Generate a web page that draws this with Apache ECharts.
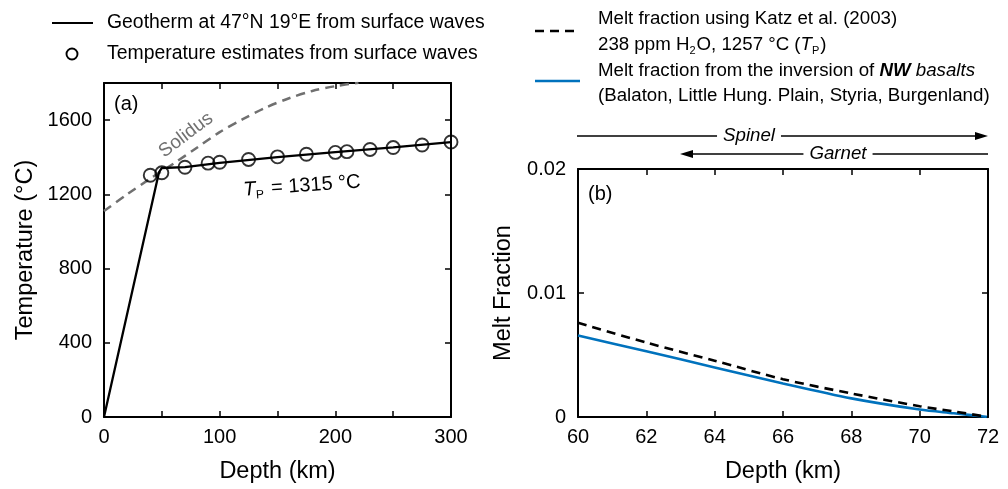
<!DOCTYPE html>
<html>
<head>
<meta charset="utf-8">
<script src="https://cdn.jsdelivr.net/npm/echarts@6/dist/echarts.min.js"></script>
<style>
  html, body { margin: 0; padding: 0; background: #fff; }
  #main { width: 1008px; height: 489px; }
</style>
</head>
<body>
<div id="main"></div>
<script>
var FONT = '"Liberation Sans", Arial, Helvetica, sans-serif';

// (a) geotherm and temperature estimates
var geothermDepth = [0, 47.5, 50, 70, 100, 150, 200, 250, 300];
var geothermTemp = [0, 1318, 1342, 1347, 1370, 1401, 1427, 1453, 1481];
var estDepth = [40, 50, 70, 90, 100, 125, 150, 175, 200, 210, 230, 250, 275, 300];
var estTemp = [1303, 1316, 1346, 1368, 1373, 1388, 1402, 1416, 1426, 1430, 1442, 1452, 1466, 1482];
var solidusDepth = [0, 20, 40, 60, 80, 100, 120, 140, 160, 180, 200, 220];
var solidusTemp = [1110, 1200, 1285, 1365, 1450, 1535, 1605, 1668, 1718, 1757, 1783, 1801];

// (b) melt fraction
var meltDepth = [60, 62, 64, 66, 68, 70, 71, 72];
var katzMelt = [0.0076, 0.0060, 0.00454, 0.00305, 0.0019, 0.00087, 0.00045, 0];
var nwMelt = [0.00657, 0.0053, 0.0040, 0.0027, 0.0015, 0.0006, 0.0003, 0];

var tempTicks = [0, 400, 800, 1200, 1600];
var meltTicks = [0, 0.01, 0.02];

function pairs(xs, ys) {
    return xs.map(function (x, i) { return [x, ys[i]]; });
}

var chart = echarts.init(document.getElementById('main'), null, {renderer: 'canvas'});

var tickStyle = {show: true, inside: true, length: 6, lineStyle: {color: '#000', width: 1.5}};
var lineStyle = {show: true, onZero: false, lineStyle: {color: '#000', width: 2}};
var labelStyle = {color: '#000', fontSize: 20, fontFamily: FONT};
var nameStyle = {color: '#000', fontSize: 23.5, fontFamily: FONT};

function xAx(grid, min, max, step, pos, showLabels, name, fmt) {
    return {
        type: 'value', gridIndex: grid, min: min, max: max, interval: step, position: pos,
        axisLine: lineStyle, axisTick: tickStyle, splitLine: {show: false},
        axisLabel: showLabels ? Object.assign({margin: 10, formatter: fmt}, labelStyle) : {show: false},
        name: name, nameLocation: 'middle', nameGap: 43, nameTextStyle: nameStyle
    };
}
function yAx(grid, min, max, step, pos, showLabels, name, fmt, gap) {
    return {
        type: 'value', gridIndex: grid, min: min, max: max, interval: step, position: pos,
        axisLine: lineStyle, axisTick: tickStyle, splitLine: {show: false},
        axisLabel: showLabels ? Object.assign({margin: 12, formatter: fmt}, labelStyle) : {show: false},
        name: name, nameLocation: 'middle', nameGap: gap, nameTextStyle: nameStyle
    };
}

var depthFmt = function (v) { return v % 100 === 0 ? String(v) : ''; };
var tempFmt = function (v) { return tempTicks.indexOf(v) >= 0 ? String(v) : ''; };
var meltFmt = function (v) { return v === 0 ? '0' : String(+v.toFixed(2)); };
var meltDepthFmt = function (v) { return String(v); };

var LEG = 18.7;  // right legend font size

var option = {
    animation: false,
    backgroundColor: '#fff',
    grid: [
        {left: 104, top: 83, width: 347, height: 345},
        {left: 578, top: 169, width: 410, height: 259}
    ],
    xAxis: [
        xAx(0, 0, 300, 50, 'bottom', true, 'Depth (km)', depthFmt),
        xAx(0, 0, 300, 50, 'top', false, '', null),
        xAx(1, 60, 72, 2, 'bottom', true, 'Depth (km)', meltDepthFmt),
        xAx(1, 60, 72, 2, 'top', false, '', null)
    ],
    yAxis: [
        yAx(0, 0, 1800, 400, 'left', true, 'Temperature (°C)', tempFmt, 66),
        yAx(0, 0, 1800, 400, 'right', false, '', null, 0),
        yAx(1, 0, 0.02, 0.01, 'left', true, 'Melt Fraction', meltFmt, 62),
        yAx(1, 0, 0.02, 0.01, 'right', false, '', null, 0)
    ],
    series: [
        {
            type: 'line', xAxisIndex: 0, yAxisIndex: 0, name: 'Solidus',
            data: pairs(solidusDepth, solidusTemp), smooth: 0.3, showSymbol: false,
            lineStyle: {color: '#707070', width: 2.5, type: [9, 6]}, clip: true, z: 2
        },
        {
            type: 'line', xAxisIndex: 0, yAxisIndex: 0, name: 'Geotherm',
            data: pairs(geothermDepth, geothermTemp), showSymbol: false,
            lineStyle: {color: '#000', width: 2.3}, z: 3
        },
        {
            type: 'scatter', xAxisIndex: 0, yAxisIndex: 0, name: 'Estimates',
            data: pairs(estDepth, estTemp), symbol: 'circle', symbolSize: 13,
            itemStyle: {color: 'rgba(255,255,255,0)', borderColor: '#000', borderWidth: 1.9}, z: 4
        },
        {
            type: 'line', xAxisIndex: 2, yAxisIndex: 2, name: 'Katz',
            data: pairs(meltDepth, katzMelt), smooth: 0.3, showSymbol: false,
            lineStyle: {color: '#000', width: 2.6, type: [9, 6]}, z: 3
        },
        {
            type: 'line', xAxisIndex: 2, yAxisIndex: 2, name: 'NW basalts',
            data: pairs(meltDepth, nwMelt), smooth: 0.3, showSymbol: false,
            lineStyle: {color: '#0072BD', width: 2.6}, z: 2
        }
    ],
    graphic: [
        // left legend
        {type: 'line', shape: {x1: 52, y1: 23, x2: 93, y2: 23}, style: {stroke: '#000', lineWidth: 2.2}},
        {type: 'text', x: 107, y: 23, style: {text: 'Geotherm at 47°N 19°E from surface waves', fontSize: 19.4, fontFamily: FONT, fill: '#000', verticalAlign: 'middle'}},
        {type: 'circle', shape: {cx: 72, cy: 54, r: 5.5}, style: {fill: 'none', stroke: '#000', lineWidth: 1.9}},
        {type: 'text', x: 107, y: 54, style: {text: 'Temperature estimates from surface waves', fontSize: 19.4, fontFamily: FONT, fill: '#000', verticalAlign: 'middle'}},
        // panel (a) annotations
        {type: 'text', x: 114, y: 104, style: {text: '(a)', fontSize: 20, fontFamily: FONT, fill: '#000', verticalAlign: 'middle'}},
        {type: 'text', x: 186, y: 135, rotation: 37 * Math.PI / 180, style: {text: 'Solidus', fontSize: 19, fontFamily: FONT, fill: '#707070', align: 'center', verticalAlign: 'middle'}},
        {type: 'text', x: 302, y: 186, rotation: 4 * Math.PI / 180, style: {
            text: '{it|T}{sub|P} = 1315 °C', fontSize: 20, fontFamily: FONT, fill: '#000', align: 'center', verticalAlign: 'middle',
            rich: {
                it: {fontSize: 20, fontStyle: 'italic', fontFamily: FONT},
                sub: {fontSize: 12, fontFamily: FONT, padding: [12, 2, 0, 0]}
            }
        }},
        // right legend
        {type: 'line', shape: {x1: 535, y1: 31, x2: 580, y2: 31}, style: {stroke: '#000', lineWidth: 2.6, lineDash: [9, 6]}},
        {type: 'text', x: 598, y: 19, style: {text: 'Melt fraction using Katz et al. (2003)', fontSize: LEG, fontFamily: FONT, fill: '#000', verticalAlign: 'middle'}},
        {type: 'text', x: 598, y: 45, style: {
            text: '238 ppm H{sub|2}O, 1257 °C ({it|T}{sub|P})', fontSize: LEG, fontFamily: FONT, fill: '#000', verticalAlign: 'middle',
            rich: {
                it: {fontSize: LEG, fontStyle: 'italic', fontFamily: FONT},
                sub: {fontSize: 11, fontFamily: FONT, padding: [11, 1, 0, 0]}
            }
        }},
        {type: 'line', shape: {x1: 535, y1: 81, x2: 580, y2: 81}, style: {stroke: '#0072BD', lineWidth: 2.6}},
        {type: 'text', x: 598, y: 71, style: {
            text: 'Melt fraction from the inversion of {bi|NW} {it|basalts}', fontSize: LEG, fontFamily: FONT, fill: '#000', verticalAlign: 'middle',
            rich: {
                it: {fontSize: LEG, fontStyle: 'italic', fontFamily: FONT},
                bi: {fontSize: LEG, fontStyle: 'italic', fontWeight: 'bold', fontFamily: FONT}
            }
        }},
        {type: 'text', x: 598, y: 96, style: {text: '(Balaton, Little Hung. Plain, Styria, Burgenland)', fontSize: LEG, fontFamily: FONT, fill: '#000', verticalAlign: 'middle'}},
        // spinel / garnet arrows
        {type: 'line', shape: {x1: 577, y1: 136, x2: 978, y2: 136}, style: {stroke: '#000', lineWidth: 1.5}},
        {type: 'polygon', shape: {points: [[988, 136], [975, 132], [975, 140]]}, style: {fill: '#000'}},
        {type: 'text', x: 749, y: 136, style: {text: 'Spinel', fontSize: LEG, fontStyle: 'italic', fontFamily: FONT, fill: '#000', align: 'center', verticalAlign: 'middle', backgroundColor: '#fff', padding: [0, 6]}},
        {type: 'line', shape: {x1: 690, y1: 154, x2: 988, y2: 154}, style: {stroke: '#000', lineWidth: 1.5}},
        {type: 'polygon', shape: {points: [[680, 154], [693, 150], [693, 158]]}, style: {fill: '#000'}},
        {type: 'text', x: 838, y: 154, style: {text: 'Garnet', fontSize: LEG, fontStyle: 'italic', fontFamily: FONT, fill: '#000', align: 'center', verticalAlign: 'middle', backgroundColor: '#fff', padding: [0, 6]}},
        // panel (b) label
        {type: 'text', x: 588, y: 194, style: {text: '(b)', fontSize: 20, fontFamily: FONT, fill: '#000', verticalAlign: 'middle'}}
    ]
};

chart.setOption(option);
</script>
</body>
</html>
